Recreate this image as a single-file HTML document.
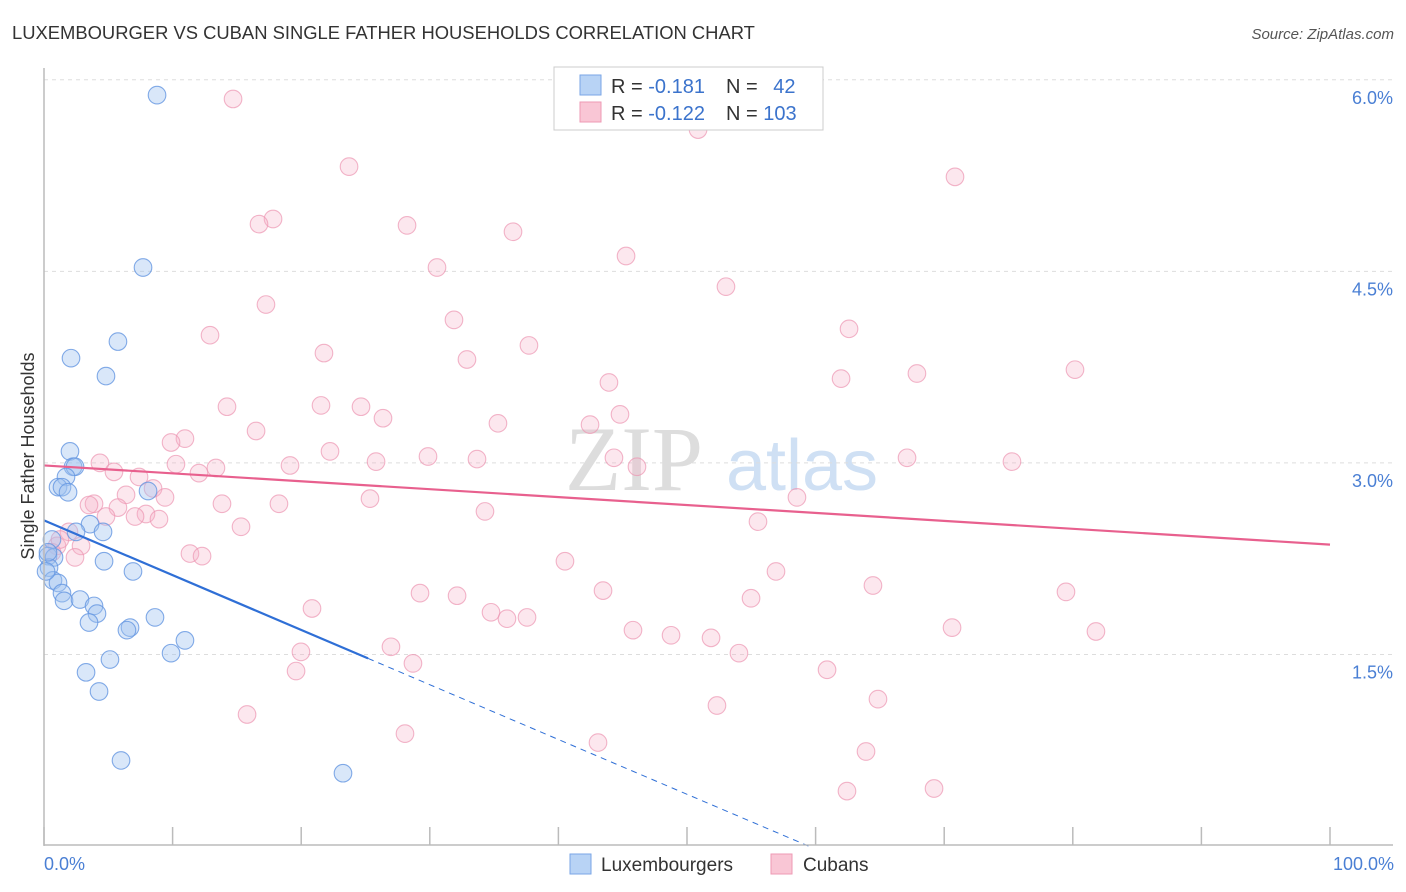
<!DOCTYPE html>
<html><head><meta charset="utf-8"><style>
body{margin:0;background:#fff;font-family:"Liberation Sans",sans-serif;}
#wrap{position:relative;width:1406px;height:892px;overflow:hidden;}
</style></head><body>
<div id="wrap">
<svg id="svg" width="1406" height="892" xmlns="http://www.w3.org/2000/svg">
<text x="12" y="39" font-size="18.4" fill="#333">LUXEMBOURGER VS CUBAN SINGLE FATHER HOUSEHOLDS CORRELATION CHART</text>
<text x="1394" y="39" font-size="15" fill="#555" font-style="italic" text-anchor="end">Source: ZipAtlas.com</text>
<text x="634" y="490" font-size="92" fill="#ddd" font-family="Liberation Serif,serif" text-anchor="middle">ZIP</text>
<text x="802" y="490" font-size="72" fill="#cfe0f4" text-anchor="middle">atlas</text>
<text transform="translate(34,456) rotate(-90)" font-size="18" fill="#333" text-anchor="middle">Single Father Households</text>
<g id="grid"></g><g id="marks"></g>
<line x1="44" y1="68" x2="44" y2="846" stroke="#bbb" stroke-width="1.5"/>
<line x1="44" y1="845" x2="1393" y2="845" stroke="#bbb" stroke-width="1.5"/>
<text x="44" y="870" font-size="18" fill="#4a7fd4">0.0%</text>
<text x="1394" y="870" font-size="18" fill="#4a7fd4" text-anchor="end">100.0%</text>
<g>
<rect x="554" y="67" width="269" height="63" fill="#fff" stroke="#ccc"/>
<rect x="580" y="75" width="21" height="20" fill="#b8d3f5" stroke="#7aa6e6"/>
<rect x="580" y="102" width="21" height="20" fill="#f9c6d5" stroke="#ee9ab4"/>
<text x="611" y="93" font-size="20" fill="#333">R = <tspan fill="#3b73cc">-0.181</tspan></text>
<text x="726" y="93" font-size="20" fill="#333">N = <tspan fill="#3b73cc" dx="10">42</tspan></text>
<text x="611" y="120" font-size="20" fill="#333">R = <tspan fill="#3b73cc">-0.122</tspan></text>
<text x="726" y="120" font-size="20" fill="#333">N = <tspan fill="#3b73cc">103</tspan></text>
</g>
<g>
<rect x="570" y="854" width="21" height="20" fill="#b8d3f5" stroke="#7aa6e6"/>
<text x="601" y="871" font-size="19" fill="#333">Luxembourgers</text>
<rect x="771" y="854" width="21" height="20" fill="#f9c6d5" stroke="#ee9ab4"/>
<text x="803" y="871" font-size="19" fill="#333">Cubans</text>
</g>
</svg>
</div>
<script>
const yTicks=[1.5,3.0,4.5,6.0];
const yTickLabels=["1.5%","3.0%","4.5%","6.0%"];
const xTickCount=10;
const luxX=[8.79,7.70,5.75,2.10,4.82,2.02,2.26,2.41,1.71,1.09,1.40,1.87,8.09,3.58,2.49,4.59,0.62,0.31,0.78,4.67,0.39,6.92,0.70,1.09,1.40,1.56,2.80,3.89,4.12,3.50,8.63,6.69,6.45,10.96,9.88,5.13,3.27,4.28,5.99,23.25,0.31,0.16];
const luxY=[5.88,4.53,3.95,3.82,3.68,3.09,2.97,2.97,2.89,2.81,2.81,2.77,2.78,2.52,2.46,2.46,2.40,2.27,2.26,2.23,2.18,2.15,2.08,2.06,1.98,1.92,1.93,1.88,1.82,1.75,1.79,1.71,1.69,1.61,1.51,1.46,1.36,1.21,0.67,0.57,2.30,2.15];
const cubX=[14.70,23.72,50.86,70.84,17.81,16.72,28.23,36.47,45.26,30.56,53.03,17.26,31.88,62.60,12.91,21.77,37.71,32.89,43.93,61.98,67.88,80.17,14.23,21.54,24.65,26.36,44.79,35.30,42.46,16.49,10.96,9.88,22.24,29.86,33.67,44.32,67.11,75.27,4.35,10.26,13.37,19.13,25.82,46.11,5.44,12.05,7.39,8.48,6.38,9.41,58.55,25.35,3.89,13.84,18.27,5.75,7.93,4.82,7.08,34.29,8.94,55.52,15.32,1.94,1.01,2.88,0.62,2.41,11.35,12.29,40.51,56.92,64.46,43.47,29.24,32.12,54.98,79.47,20.84,34.76,36.00,37.56,70.61,45.80,81.80,48.76,51.87,26.98,54.04,19.98,28.69,19.60,60.89,64.85,52.33,15.79,28.07,43.08,63.92,62.44,69.21,3.50,1.24];
const cubY=[5.85,5.32,5.61,5.24,4.91,4.87,4.86,4.81,4.62,4.53,4.38,4.24,4.12,4.05,4.00,3.86,3.92,3.81,3.63,3.66,3.70,3.73,3.44,3.45,3.44,3.35,3.38,3.31,3.30,3.25,3.19,3.16,3.09,3.05,3.03,3.04,3.04,3.01,3.00,2.99,2.96,2.98,3.01,2.97,2.93,2.92,2.89,2.80,2.75,2.73,2.73,2.72,2.68,2.68,2.68,2.65,2.60,2.58,2.58,2.62,2.56,2.54,2.50,2.46,2.35,2.35,2.30,2.26,2.29,2.27,2.23,2.15,2.04,2.00,1.98,1.96,1.94,1.99,1.86,1.83,1.78,1.79,1.71,1.69,1.68,1.65,1.63,1.56,1.51,1.52,1.43,1.37,1.38,1.15,1.10,1.03,0.88,0.81,0.74,0.43,0.45,2.67,2.40];
const luxTrend=[2.55,-0.0429];
const luxSolidEnd=25.2;
const cubTrend=[2.98,-0.0062];

const NS="http://www.w3.org/2000/svg";
function sx(v){return 44+v*12.86;}
function sy(v){return 846-v*127.7;}
function mk(tag,attrs,parent){const e=document.createElementNS(NS,tag);for(const k in attrs)e.setAttribute(k,attrs[k]);parent.appendChild(e);return e;}
const grid=document.getElementById('grid'),marks=document.getElementById('marks');
yTicks.forEach((t,i)=>{
  const l=mk('line',{x1:44,x2:1393,y1:sy(t),y2:sy(t),stroke:'#ddd','stroke-dasharray':'4,4'},grid);
  
  
  const tx=mk('text',{x:1393,y:sy(t)+24,'font-size':18,fill:'#4a7fd4','text-anchor':'end'},grid);
  tx.textContent=yTickLabels[i];
  
  
});
for(let k=0;k<=xTickCount;k++){
  const x=sx(k*100/xTickCount);
  const l=mk('line',{x1:x,x2:x,y1:827,y2:845,stroke:'#bbb','stroke-width':1.5},grid);
  
  
}
cubX.forEach((x,i)=>{
  const c=mk('circle',{cx:sx(x),cy:sy(cubY[i]),r:8.8,fill:'rgba(246,175,198,0.3)',stroke:'rgba(236,150,178,0.7)','stroke-width':1.1},marks);
  
  
});
luxX.forEach((x,i)=>{
  const c=mk('circle',{cx:sx(x),cy:sy(luxY[i]),r:8.8,fill:'rgba(160,196,240,0.4)',stroke:'rgba(100,150,225,0.8)','stroke-width':1.1},marks);
  
  
});
const ct=mk('line',{x1:sx(0),y1:sy(cubTrend[0]),x2:sx(100),y2:sy(cubTrend[0]+cubTrend[1]*100),stroke:'#e8608e','stroke-width':2.2},marks);


const lt=mk('line',{x1:sx(0),y1:sy(luxTrend[0]),x2:sx(luxSolidEnd),y2:sy(luxTrend[0]+luxTrend[1]*luxSolidEnd),stroke:'#2f6fd6','stroke-width':2.2},marks);


const xEnd=-luxTrend[0]/luxTrend[1];
const ld=mk('line',{x1:sx(luxSolidEnd),y1:sy(luxTrend[0]+luxTrend[1]*luxSolidEnd),x2:sx(xEnd),y2:sy(0),stroke:'#2f6fd6','stroke-width':1,'stroke-dasharray':'6,5'},marks);


</script>
</body></html>
